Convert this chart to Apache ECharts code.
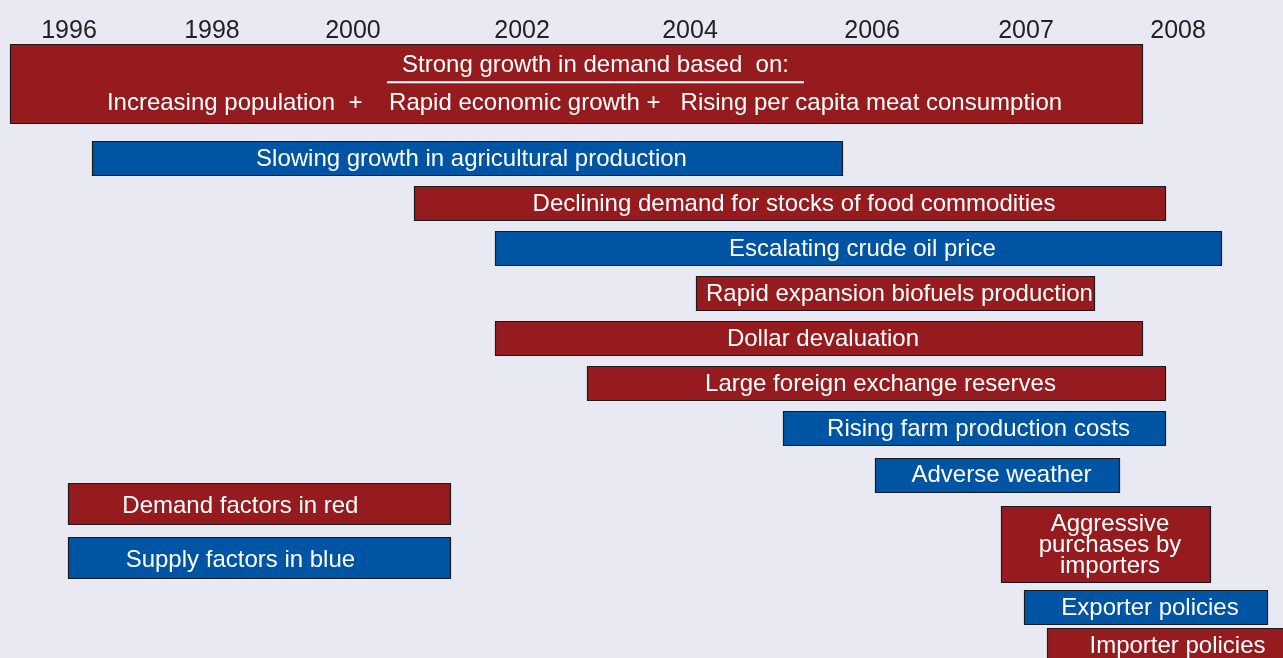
<!DOCTYPE html>
<html>
<head>
<meta charset="utf-8">
<title>Food price drivers</title>
<script src="https://cdn.jsdelivr.net/npm/echarts@6.0.0/dist/echarts.min.js"></script>
<style>
html, body { margin: 0; padding: 0; background: #e9e9f4; }
#main { width: 1283px; height: 658px; }
</style>
</head>
<body>
<div id="main"></div>
<script>
// year ticks along the top
var yearTicks = [1996, 1998, 2000, 2002, 2004, 2006, 2007, 2008];
// the time scale is not linear - where each year sits (percent of timeline)
var yearSpots = [5.38, 16.52, 27.51, 40.69, 53.78, 67.97, 79.97, 91.82];

// factors, one box each
var factorNames = [
    'Strong growth in demand based  on:',
    'Slowing growth in agricultural production',
    'Declining demand for stocks of food commodities',
    'Escalating crude oil price',
    'Rapid expansion biofuels production',
    'Dollar devaluation',
    'Large foreign exchange reserves',
    'Rising farm production costs',
    'Adverse weather',
    'Demand factors in red',
    'Aggressive\npurchases by\nimporters',
    'Supply factors in blue',
    'Exporter policies',
    'Importer policies'
];
var headerLine2 = 'Increasing population  +    Rapid economic growth +   Rising per capita meat consumption';
var factorKind = ['demand', 'supply', 'demand', 'supply', 'demand', 'demand', 'demand',
    'supply', 'supply', 'demand', 'demand', 'supply', 'supply', 'demand'];
var startYear = [1995.17, 1996.32, 2000.72, 2001.68, 2004.07, 2001.68, 2002.77,
    2005.02, 2006.02, 1995.99, 2006.84, 1995.99, 2006.99, 2007.14];
var endYear = [2007.76, 2005.67, 2007.91, 2008.28, 2007.45, 2007.76, 2007.91,
    2007.91, 2007.61, 2001.15, 2008.21, 2001.15, 2008.59, 2008.8];
var factorLane = [-0.65, 1, 2, 3, 4, 5, 6, 7, 8.04, 8.68, 9.58, 9.88, 10.98, 11.82];
var boxType = ['header', 'row', 'row', 'row', 'row', 'row', 'row',
    'row', 'row', 'legend', 'tall', 'legend', 'row', 'row'];

// looks
var kindColor = { demand: '#951b1f', supply: '#0054a4' };
var boxHeight = { header: 79, row: 34, legend: 41, tall: 76 };
var textFont = '"Liberation Sans", Arial, Helvetica, sans-serif';

// year -> timeline position, piecewise between the ticks
function yearToX(y) {
    var n = yearTicks.length;
    var i = 0;
    while (i < n - 2 && y > yearTicks[i + 1]) i++;
    var t = (y - yearTicks[i]) / (yearTicks[i + 1] - yearTicks[i]);
    return yearSpots[i] + t * (yearSpots[i + 1] - yearSpots[i]);
}

var measureCtx = document.createElement('canvas').getContext('2d');
measureCtx.font = '24px ' + textFont;

var boxData = factorNames.map(function (name, i) {
    return [yearToX(startYear[i]), yearToX(endYear[i]), factorLane[i], i];
});

function renderFactor(params, api) {
    var i = api.value(3);
    var p0 = api.coord([api.value(0), api.value(2)]);
    var p1 = api.coord([api.value(1), api.value(2)]);
    var h = boxHeight[boxType[i]];
    var x = Math.round(p0[0]) + 0.5;
    var y = Math.round(p0[1] - h / 2) + 0.5;
    var w = Math.round(p1[0] - p0[0]);
    var cx = x + w / 2;
    var cy = p0[1];
    var kids = [{
        type: 'rect',
        shape: { x: x, y: y, width: w, height: h },
        style: { fill: kindColor[factorKind[i]], stroke: '#1b1b1b', lineWidth: 1.2 }
    }];
    var txt = { fill: '#fff', fontSize: 24, fontFamily: textFont, align: 'center', verticalAlign: 'middle' };

    if (boxType[i] === 'header') {
        var tw = measureCtx.measureText(factorNames[i]).width;
        var tx = cx + 19;
        kids.push({ type: 'text', style: Object.assign({}, txt, { text: factorNames[i], x: tx, y: cy - 18.5 }) });
        kids.push({
            type: 'line',
            shape: { x1: tx - tw / 2 - 15, y1: cy - 1.5, x2: tx + tw / 2 + 15, y2: cy - 1.5 },
            style: { stroke: '#fff', lineWidth: 2.2 }
        });
        kids.push({ type: 'text', style: Object.assign({}, txt, { text: headerLine2, x: cx + 8, y: cy + 19.5 }) });
    } else if (boxType[i] === 'legend') {
        kids.push({ type: 'text', style: Object.assign({}, txt, { text: factorNames[i], x: x + w * 0.45, y: cy + 2.5 }) });
    } else {
        kids.push({ type: 'text', style: Object.assign({}, txt, { text: factorNames[i], x: cx + 4, y: cy + 1, lineHeight: 21 }) });
    }
    return { type: 'group', children: kids };
}

var myChart = echarts.init(document.getElementById('main'));

var option = {
    backgroundColor: '#e9e9f4',
    animation: false,
    grid: { left: 0, right: 0, top: 0, bottom: 0 },
    xAxis: {
        type: 'value',
        position: 'top',
        min: 0,
        max: 100,
        axisLine: { show: false },
        axisTick: { show: false },
        splitLine: { show: false },
        axisLabel: {
            inside: true,
            margin: 19,
            customValues: yearSpots,
            fontSize: 25,
            fontFamily: textFont,
            color: '#222',
            formatter: function (v) {
                var best = 0;
                for (var k = 1; k < yearSpots.length; k++) {
                    if (Math.abs(yearSpots[k] - v) < Math.abs(yearSpots[best] - v)) best = k;
                }
                return String(yearTicks[best]);
            }
        }
    },
    yAxis: {
        type: 'value',
        inverse: true,
        min: -2.511,
        max: 12.111,
        show: false
    },
    series: [{
        type: 'custom',
        renderItem: renderFactor,
        clip: false,
        encode: { x: [0, 1], y: 2 },
        data: boxData
    }]
};

myChart.setOption(option);
</script>
</body>
</html>
